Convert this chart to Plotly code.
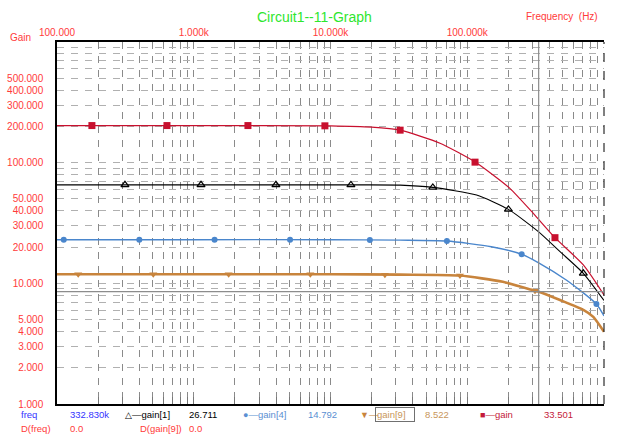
import plotly.graph_objects as go

# ---------------- data ----------------
red_freq = [100, 1000, 10000, 20000, 32300, 63200, 110000, 151000, 205000, 304000, 438000, 706000, 1000000]
red_gain = [203, 203, 202, 197, 186, 145, 104, 80.5, 61.2, 38.0, 23.9, 14.2, 8.0]
red_mk_freq = [180, 637, 2490, 9100, 32300, 114000, 438000]
red_mk_gain = [203, 203, 203, 202, 186, 101, 23.9]

black_freq = [100, 1000, 10000, 32300, 56000, 117000, 200000, 332830, 477000, 706000, 1000000]
black_gain = [65.5, 65.5, 65.4, 65.2, 62.4, 53.9, 41.0, 26.7, 18.3, 12.1, 7.2]
black_mk_freq = [314, 1130, 3990, 14100, 56000, 200000, 706000]
black_mk_gain = [65.5, 65.5, 65.5, 65.4, 62.4, 41.0, 12.1]

blue_freq = [100, 1000, 10000, 32300, 71000, 150000, 250000, 332830, 533000, 880000, 1000000]
blue_gain = [23.0, 23.0, 23.0, 22.8, 22.4, 20.1, 17.4, 14.8, 10.6, 6.74, 5.36]
blue_mk_freq = [112, 400, 1420, 5060, 19400, 71000, 250000, 880000]
blue_mk_gain = [23.0, 23.0, 23.0, 23.0, 22.9, 22.4, 17.4, 6.74]

orange_freq = [100, 1000, 10000, 32300, 88000, 182000, 297000, 332830, 477000, 706000, 835000, 1000000]
orange_gain = [11.9, 11.9, 11.9, 11.8, 11.6, 10.3, 8.83, 8.52, 7.27, 6.03, 5.28, 3.97]
orange_mk_freq = [143, 506, 1800, 7120, 25000, 88500, 313000]
orange_mk_gain = [11.9, 11.9, 11.9, 11.9, 11.8, 11.6, 8.7]

x_tick_vals = [100, 1000, 10000, 100000, 1000000]
x_tick_text = ["100.000", "1.000k", "10.000k", "100.000k", "1.000Meg"]
y_tick_vals = [1, 2, 3, 4, 5, 10, 20, 30, 40, 50, 100, 200, 300, 400, 500]
y_tick_text = ["1.000", "2.000", "3.000", "4.000", "5.000", "10.000", "20.000", "30.000",
               "40.000", "50.000", "100.000", "200.000", "300.000", "400.000", "500.000"]

cursor_freq = 332830
cursor_gain9 = 8.522
readout = {"freq": "332.830k", "gain[1]": "26.711", "gain[4]": "14.792",
           "gain[9]": "8.522", "gain": "33.501"}

# ---------------- styling ----------------
RED_TXT = "#ff3a3a"
C_RED = "#c8102e"
C_BLACK = "#000000"
C_BLUE = "#4a86cc"
C_ORANGE = "#c8843c"
FONT = "Liberation Sans, Arial, sans-serif"

L, R, T, B = 57, 604, 42, 404
W, H = 619, 434


def px(xp, yp):
    return (xp - L) / (R - L), (B - yp) / (B - T)


minor_x = [m * 10 ** e for e in range(2, 6) for m in range(2, 10)]
minor_y = [m * 10 ** e for e in range(0, 3) for m in range(2, 10) if m * 10 ** e not in y_tick_vals]
all_x = sorted(minor_x + x_tick_vals)

fig = go.Figure()

series = [
    (orange_freq, orange_gain, orange_mk_freq, orange_mk_gain, C_ORANGE, 2.6,
     dict(symbol="triangle-down", size=7, color=C_ORANGE)),
    (blue_freq, blue_gain, blue_mk_freq, blue_mk_gain, C_BLUE, 1.4,
     dict(symbol="circle", size=6, color=C_BLUE)),
    (black_freq, black_gain, black_mk_freq, black_mk_gain, C_BLACK, 1.1,
     dict(symbol="triangle-up-open", size=7, color=C_BLACK, line=dict(width=1.2, color=C_BLACK))),
    (red_freq, red_gain, red_mk_freq, red_mk_gain, C_RED, 1.2,
     dict(symbol="square", size=7, color=C_RED)),
]
for xf, yg, mx, my, col, lw, mk in series:
    fig.add_trace(go.Scatter(x=xf, y=yg, mode="lines", line=dict(color=col, width=lw, shape="spline", smoothing=0.6),
                             showlegend=False, hoverinfo="skip"))
    fig.add_trace(go.Scatter(x=mx, y=my, mode="markers", marker=mk, showlegend=False, hoverinfo="skip"))

# invisible trace for the bottom tick axis
fig.add_trace(go.Scatter(x=[100, 1000000], y=[1, 1], xaxis="x2", mode="lines",
                         line=dict(width=0), showlegend=False, hoverinfo="skip"))

grid_common = dict(showgrid=True, griddash="7px,7px", gridwidth=1)

fig.update_layout(
    width=W, height=H,
    margin=dict(l=L, r=W - R, t=T, b=H - B, autoexpand=False),
    paper_bgcolor="white", plot_bgcolor="white",
    font=dict(family=FONT, size=10, color=RED_TXT),
    xaxis=dict(type="log", range=[2, 6], side="top", tickmode="array", automargin=False,
               tickvals=x_tick_vals, ticktext=x_tick_text, ticks="",
               tickfont=dict(size=10, color=RED_TXT), gridcolor="#8a8a8a",
               showline=True, linecolor="black", linewidth=1.5, mirror=False,
               minor=dict(tickvals=minor_x, showgrid=True, gridcolor="#8a8a8a",
                          griddash="7px,7px", gridwidth=1),
               zeroline=False, fixedrange=True, **grid_common),
    xaxis2=dict(type="log", range=[2, 6], overlaying="x", side="bottom", anchor="y", automargin=False,
                tickmode="array", tickvals=all_x, ticks="inside", ticklen=7,
                tickcolor="#777777", showticklabels=False, showgrid=False,
                showline=True, linecolor="black", linewidth=1.5, zeroline=False),
    yaxis=dict(type="log", range=[0, 3], tickmode="array", tickvals=y_tick_vals, automargin=False,
               ticktext=y_tick_text, ticks="", ticklabelstandoff=10,
               tickfont=dict(size=10, color=RED_TXT), gridcolor="#b0b0b0",
               showline=True, linecolor="black", linewidth=1.5,
               minor=dict(tickvals=minor_y, showgrid=True, gridcolor="#b0b0b0",
                          griddash="7px,7px", gridwidth=1),
               zeroline=False, fixedrange=True, **grid_common),
)

# right dashed border and cursor lines
fig.add_shape(type="line", xref="x domain", yref="y domain", x0=1, x1=1, y0=0, y1=1,
              line=dict(color="black", width=1, dash="dash"))
fig.add_shape(type="line", xref="x", yref="y domain", x0=cursor_freq, x1=cursor_freq, y0=0, y1=1,
              line=dict(color="#8c8c8c", width=1.2))
fig.add_shape(type="line", xref="x domain", yref="y", x0=0, x1=1, y0=cursor_gain9, y1=cursor_gain9,
              line=dict(color="#8c8c8c", width=1.2))


def text(xp, yp, s, color, size=10, anchor="left", **kw):
    xx, yy = px(xp, yp)
    fig.add_annotation(x=xx, y=yy, xref="paper", yref="paper", text=s, showarrow=False,
                       xanchor=anchor, yanchor="middle", font=dict(family=FONT, size=size, color=color),
                       **kw)


text(314, 17, "Circuit1--11-Graph", "#2ee62e", size=14, anchor="center")
text(524, 16, "Frequency&nbsp;&nbsp;(Hz)", RED_TXT, size=10)
text(8, 37, "Gain", RED_TXT, size=10)

BLUE_TXT = "#3434ff"
LB = "#5b8fd2"
TAN = "#c8965a"
DRED = "#c41a3a"
ROW1, ROW2 = 414, 428
text(19, ROW1, "freq", BLUE_TXT, size=9.5)
text(68, ROW1, readout["freq"], BLUE_TXT, size=9.5)
text(123, ROW1, "<span style='font-size:9px'>△</span>—gain[1]", C_BLACK, size=9.5)
text(187, ROW1, readout["gain[1]"], C_BLACK, size=9.5)
text(241, ROW1, "<span style='font-size:9px'>●</span>—gain[4]", LB, size=9.5)
text(306, ROW1, readout["gain[4]"], LB, size=9.5)
text(358, ROW1, "<span style='font-size:9px'>▼</span>—", C_ORANGE, size=9.5)
text(375, ROW1, "gain[9]&nbsp;&nbsp;&nbsp;", TAN, size=9.5, bordercolor="#707070", borderwidth=1, borderpad=1)
text(423, ROW1, readout["gain[9]"], TAN, size=9.5)
text(478, ROW1, "<span style='font-size:9px'>■</span>—gain", DRED, size=9.5)
text(542, ROW1, readout["gain"], DRED, size=9.5)
text(19, ROW2, "D(freq)", RED_TXT, size=9.5)
text(68, ROW2, "0.0", RED_TXT, size=9.5)
text(138, ROW2, "D(gain[9])", RED_TXT, size=9.5)
text(187, ROW2, "0.0", RED_TXT, size=9.5)

fig.write_html("out.html", config={"displayModeBar": False},
               post_script="document.body.style.margin='0px';document.body.style.overflow='hidden';")
